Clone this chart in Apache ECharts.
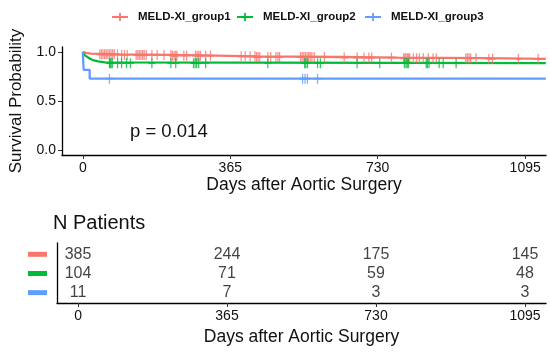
<!DOCTYPE html>
<html>
<head>
<meta charset="utf-8">
<script src="https://cdn.jsdelivr.net/npm/echarts@6/dist/echarts.min.js"></script>
<style>html,body{margin:0;padding:0;background:#fff}#c{width:550px;height:353px}</style>
</head>
<body>
<div id="c"></div>
<script>
// ---- data ----
const groupNames = ['MELD-XI_group1', 'MELD-XI_group2', 'MELD-XI_group3'];
const g1Times = [0, 2, 8, 20, 90, 220, 330, 430, 640, 780, 1000, 1146];
const g1Surv  = [1.0, 0.990, 0.982, 0.975, 0.969, 0.962, 0.955, 0.948, 0.942, 0.936, 0.930, 0.930];
const g2Times = [0, 1, 2, 3, 5, 7, 10, 13, 17, 22, 28, 38, 55, 1146];
const g2Surv  = [1.0, 0.990, 0.981, 0.971, 0.962, 0.952, 0.942, 0.933, 0.923, 0.913, 0.904, 0.894, 0.885, 0.885];
const g3Times = [0, 1, 2, 17, 1146];
const g3Surv  = [1.0, 0.909, 0.818, 0.727, 0.727];
const g1Censor = [42,46,50,54,58,62,66,70,74,78,86,96,103,110,132,136,140,144,148,152,157,171,184,201,218,222,226,230,233,250,257,279,283,287,291,304,316,392,402,414,426,430,434,438,458,465,478,483,487,539,543,547,551,555,559,563,567,573,598,647,679,696,708,715,764,794,797,800,803,806,809,818,826,833,843,855,867,875,948,952,956,960,973,1005,1014,1078,1127];
const g2Censor = [66,68,70,73,86,96,108,118,171,218,230,274,278,282,287,304,458,549,552,556,581,588,679,735,796,800,803,806,850,853,857,882,892,924];
const g3Censor = [66,544,550,556,581];
const riskTimes = [0, 365, 730, 1095];
const g1Risk = [385, 244, 175, 145];
const g2Risk = [104, 71, 59, 48];
const g3Risk = [11, 7, 3, 3];
const xTicks = [0, 365, 730, 1095];
const yTicks = [0, 0.5, 1.0];
const pValueText = 'p = 0.014';

// ---- styling ----
const colors = ['#F8766D', '#00BA38', '#619CFF'];
const FONT = 'Liberation Sans, Arial, sans-serif';
const XMIN = -51.5, XMAX = 1146.5;

function stepAt(times, surv, t) {
  let v = surv[0];
  for (let i = 0; i < times.length; i++) { if (times[i] <= t) v = surv[i]; }
  return v;
}
const curves = [[g1Times, g1Surv, g1Censor], [g2Times, g2Surv, g2Censor], [g3Times, g3Surv, g3Censor]];
const risks = [g1Risk, g2Risk, g3Risk];

const plusSym = 'path://M0,4.1H10V5.9H0Z M4.1,0H5.9V10H4.1Z';
const legendIcon = 'path://M0,3H16V5H0Z M7.1,0H8.9V8H7.1Z';

const series = [];
curves.forEach((c, i) => {
  series.push({
    name: groupNames[i], type: 'line', step: 'end', xAxisIndex: 0, yAxisIndex: 0,
    data: c[0].map((t, k) => [t, c[1][k]]),
    showSymbol: false, symbol: 'none',
    lineStyle: { color: colors[i], width: 2.3 }, itemStyle: { color: colors[i] },
    animation: false, z: 2
  });
  series.push({
    name: groupNames[i] + '_censor', type: 'scatter', xAxisIndex: 0, yAxisIndex: 0,
    data: c[2].map(t => [t, stepAt(c[0], c[1], t)]),
    symbol: plusSym, symbolSize: [7, 10],
    itemStyle: { color: colors[i] }, animation: false, z: 3, silent: true
  });
});
const rowY = [3, 2, 1];
risks.forEach((r, i) => {
  series.push({
    name: 'risk' + i, type: 'scatter', xAxisIndex: 1, yAxisIndex: 1,
    data: riskTimes.map((t, k) => [t, rowY[i], r[k]]),
    symbolSize: 1, itemStyle: { color: 'rgba(0,0,0,0)' },
    label: { show: true, position: 'inside', formatter: p => String(p.value[2]),
             color: '#111', fontSize: 16, fontFamily: FONT },
    animation: false, silent: true
  });
});

const legendLefts = [107, 232, 360];
const legends = groupNames.map((n, i) => ({
  data: [{ name: n, icon: legendIcon }], left: legendLefts[i], top: 6,
  itemWidth: 16, itemHeight: 8, selectedMode: false,
  textStyle: { fontFamily: FONT, fontWeight: 'bold', fontSize: 11.5, color: '#111', padding: [0, 0, 0, 5] }
}));

const axisLine = { show: true, onZero: false, lineStyle: { color: '#000', width: 1.3 } };
const tickStyle = { show: true, length: 4, lineStyle: { color: '#333', width: 1 } };
const numFmt = v => String(v);

const option = {
  backgroundColor: '#fff',
  animation: false,
  legend: legends,
  grid: [
    { left: 57, right: 4, top: 47, bottom: 198 },
    { left: 57, right: 4, top: 243, bottom: 50 }
  ],
  xAxis: [
    { type: 'value', gridIndex: 0, min: XMIN, max: XMAX,
      axisLine: axisLine, splitLine: { show: false },
      axisTick: Object.assign({ customValues: xTicks }, tickStyle),
      axisLabel: { customValues: xTicks, formatter: numFmt, fontSize: 14, color: '#111', fontFamily: FONT, margin: 6 },
      name: 'Days after Aortic Surgery', nameLocation: 'middle', nameGap: 21,
      nameTextStyle: { fontSize: 17.5, color: '#111', fontFamily: FONT } },
    { type: 'value', gridIndex: 1, min: XMIN, max: XMAX,
      axisLine: axisLine, splitLine: { show: false },
      axisTick: Object.assign({ customValues: xTicks }, tickStyle),
      axisLabel: { customValues: xTicks, formatter: numFmt, fontSize: 14, color: '#111', fontFamily: FONT, margin: 6 },
      name: 'Days after Aortic Surgery', nameLocation: 'middle', nameGap: 25,
      nameTextStyle: { fontSize: 17.5, color: '#111', fontFamily: FONT } }
  ],
  yAxis: [
    { type: 'value', gridIndex: 0, min: -0.05, max: 1.05,
      axisLine: axisLine, splitLine: { show: false },
      axisTick: Object.assign({ customValues: yTicks }, tickStyle),
      axisLabel: { customValues: yTicks, formatter: v => v.toFixed(1), fontSize: 14, color: '#111', fontFamily: FONT, margin: 6 },
      name: 'Survival Probability', nameLocation: 'middle', nameGap: 37,
      nameTextStyle: { fontSize: 17, color: '#111', fontFamily: FONT } },
    { type: 'value', gridIndex: 1, min: 0.46, max: 3.59,
      axisLine: axisLine, splitLine: { show: false }, axisTick: { show: false },
      axisLabel: { customValues: rowY, margin: 10,
        formatter: v => ({3: '{a|}', 2: '{b|}', 1: '{c|}'})[Math.round(v)] || '',
        rich: {
          a: { backgroundColor: colors[0], width: 19, height: 5 },
          b: { backgroundColor: colors[1], width: 19, height: 5 },
          c: { backgroundColor: colors[2], width: 19, height: 5 }
        } } }
  ],
  graphic: [
    { type: 'text', left: 130, top: 122, style: { text: pValueText, fontSize: 18.5, fill: '#111', fontFamily: FONT } },
    { type: 'text', left: 53, top: 213, style: { text: 'N Patients', fontSize: 20, fill: '#111', fontFamily: FONT } }
  ],
  series: series
};
const chart = echarts.init(document.getElementById('c'), null, { renderer: 'canvas' });
chart.setOption(option);
</script>
</body>
</html>
